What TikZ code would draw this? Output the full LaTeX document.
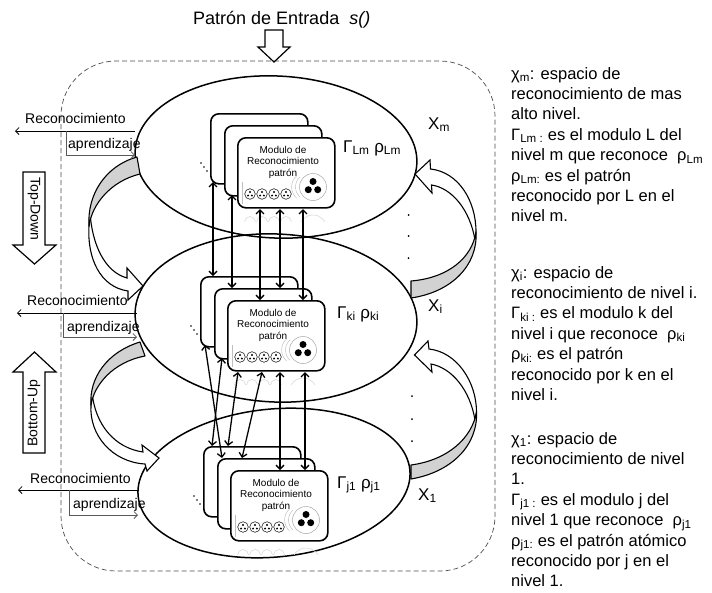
\documentclass[tikz,border=0pt]{standalone}
\usepackage{fontspec}
\setmainfont{Liberation Sans}
\usetikzlibrary{arrows.meta,shapes.geometric}
\newcommand{\sbs}[1]{\textsubscript{#1}}
\newcommand{\modgroup}[3]{%
\begin{scope}[shift={(#2,#3)}]
\node[modbox] (#1b) at (-27,-24) {};
\node[modbox] (#1m) at (-13,-12) {};
\begin{scope}
\clip (-2,71) rectangle (99,84);
\foreach \cx in {13,25,37,49} {\draw[ghost] (\cx,85) circle[radius=5.5pt];}
\draw[ghost] (76,92) circle[radius=14pt];
\end{scope}
\node[modbox] (#1f) at (0,0) {};
\node[modtext] (#1t) at (46,25) {Modulo de\\Reconocimiento\\patrón};
\draw[line width=0.5pt, gray!70] (76,50) circle[radius=13.5pt];
\draw[line width=0.4pt, gray!55] (63,40) .. controls (57,45) and (57,55) .. (63,60);
\draw[line width=0.4pt, gray!55] (59.5,39) .. controls (53,45) and (53,55) .. (59.5,61);
\fill (76,44.5) circle[radius=3.5pt];
\fill (71.3,52.7) circle[radius=3.5pt];
\fill (80.7,52.7) circle[radius=3.5pt];
\draw[gray!50, line width=0.4pt] (5,45) -- (5,67);
\foreach \cx in {13,25,37,49} {%
  \draw[line width=0.5pt] (\cx,57) circle[radius=5.3pt];
  \fill (\cx,55) circle[radius=1.1pt];
  \fill (\cx-1.9,58.5) circle[radius=1.1pt];
  \fill (\cx+1.9,58.5) circle[radius=1.1pt];}
\fill (-36,26) circle[radius=0.9pt];
\fill (-33,30) circle[radius=0.9pt];
\fill (-30,34) circle[radius=0.9pt];
\end{scope}}
\begin{document}
\begin{tikzpicture}[x=1pt,y=-1pt,
 ell/.style={draw, line width=1.5pt, ellipse, inner sep=0pt},
 modbox/.style={draw, line width=1.6pt, fill=white, rounded corners=8pt, minimum width=97pt, minimum height=70pt, anchor=north west, inner sep=0pt},
 modtext/.style={font=\fontsize{10}{11.5}\selectfont, align=center, inner sep=0pt},
 dbl/.style={line width=1.3pt, {Straight Barb[length=4pt,width=8pt]}-{Straight Barb[length=4pt,width=8pt]}},
 lbl/.style={font=\fontsize{14}{16}\selectfont, inner sep=0pt, anchor=base west},
 thinarrow/.style={line width=0.8pt, -{Straight Barb[length=3.5pt,width=7pt]}},
 blockarrow/.style={draw, fill=white, line width=1.2pt, line join=miter},
 crescent/.style={draw, fill=gray!35, line width=1.1pt, line join=round},
 ribbon/.style={draw, fill=white, line width=1.1pt, line join=miter},
 rtext/.style={font=\fontsize{16.5}{20.4}\selectfont, align=left, inner sep=0pt, anchor=north west},
 biglbl/.style={font=\fontsize{17}{20}\selectfont, inner sep=0pt, anchor=base west},
 ghost/.style={draw=gray!30, line width=0.6pt},
 frame/.style={draw=gray!60!black, dash pattern=on 5pt off 3pt, line width=0.7pt, rounded corners=55pt}]
\useasboundingbox (0,0) rectangle (712,592);
% frame
\draw[frame] (61,61) rectangle (495,571);
% ellipses
\node[ell, minimum width=282pt, minimum height=162pt, rotate=-2.6] (ET) at (276,157) {};
\node[ell, minimum width=282pt, minimum height=168pt, rotate=-2.5] (EM) at (276,318) {};
\node[ell, minimum width=273pt, minimum height=148pt, rotate=5.5] (EB) at (274,483) {};
% left curved arrows
\path[ribbon] (90,212) .. controls (92,245) and (105,272) .. (127,278) -- (127,268) -- (143,286) -- (128,300) -- (128,291) .. controls (100,287) and (87,258) .. (89,226) -- cycle;
\path[crescent] (137,157) .. controls (105,166) and (87,195) .. (89,226) .. controls (92,204) and (111,181) .. (140,174) -- cycle;
\path[ribbon] (92,392) .. controls (95,425) and (115,448) .. (143,452) -- (142,445) -- (159,458) -- (147,471) -- (145,464) .. controls (112,462) and (89,435) .. (91,405) -- cycle;
\path[crescent] (140,342) .. controls (107,352) and (89,378) .. (91,405) .. controls (94,385) and (113,362) .. (145,356) -- cycle;
% right curved arrows
\path[ribbon] (476,232) .. controls (476,200) and (458,172) .. (430.5,169) -- (430,160) -- (415,174) -- (432,193) -- (431.5,185) .. controls (452,188) and (470,210) .. (475,240) -- cycle;
\path[crescent] (411,298) .. controls (452,292) and (478,265) .. (476,232) .. controls (472,258) and (448,278) .. (411,281) -- cycle;
\path[ribbon] (476.5,412) .. controls (476.5,382) and (457,352) .. (429,349) -- (428,341) -- (414.5,355) -- (432,372) -- (431,364) .. controls (452,368) and (470,390) .. (475,420) -- cycle;
\path[crescent] (411,479) .. controls (452,472) and (478,445) .. (476.5,412) .. controls (472,438) and (448,460) .. (411,465) -- cycle;
% vertical dots
\foreach \yy in {215,236,258} {\fill (408.5,\yy) circle[radius=1pt];}
\foreach \yy in {396,419,441} {\fill (412,\yy) circle[radius=1pt];}
% modules
\modgroup{T}{237}{137}
\modgroup{M}{227}{300}
\modgroup{B}{230}{470}
% module connectors
\coordinate (p1) at (213,182); \coordinate (q1) at (213,276);
\coordinate (p2) at (232,195); \coordinate (q2) at (232,288);
\coordinate (p3) at (260,209); \coordinate (q3) at (260,300);
\coordinate (p4) at (280,209); \coordinate (q4) at (280,288);
\coordinate (p5) at (303,209); \coordinate (q5) at (303,300);
\foreach \i in {1,...,5} {\draw[dbl] (p\i) -- (q\i);}
\coordinate (s1) at (205,345); \coordinate (t1) at (222,458);
\coordinate (s2) at (222,358); \coordinate (t2) at (212,446);
\coordinate (s3) at (238,372); \coordinate (t3) at (228,446);
\coordinate (s4) at (262,372); \coordinate (t4) at (242,458);
\coordinate (s5) at (280,372); \coordinate (t5) at (280,470);
\coordinate (s6) at (305,372); \coordinate (t6) at (305,470);
\foreach \i in {1,...,6} {\draw[dbl] (s\i) -- (t\i);}
% level labels
\node[biglbl] (LT) at (343,152) {Γ\sbs{Lm} ρ\sbs{Lm}};
\node[biglbl] (LM) at (337,318) {Γ\sbs{ki} ρ\sbs{ki}};
\node[biglbl] (LB) at (337,488) {Γ\sbs{j1} ρ\sbs{j1}};
\node[biglbl] (XT) at (428,129) {Χ\sbs{m}};
\node[biglbl] (XM) at (428,311) {Χ\sbs{i}};
\node[biglbl] (XB) at (418,500) {Χ\sbs{1}};
% input
\node[anchor=base west, font=\fontsize{18}{20}\selectfont, inner sep=0pt] (inp) at (193,24) {Patrón de Entrada\ \ \textit{s()}};
\path[blockarrow] (265,30) -- (283,30) -- (283,47) -- (290,47) -- (274,62) -- (258,47) -- (265,47) -- cycle;
% Top-Down / Bottom-Up
\path[blockarrow] (23,172) -- (45,172) -- (45,245) -- (56,245) -- (34.5,264) -- (13,245) -- (23,245) -- cycle;
\node[rotate=-90, font=\fontsize{14}{16}\selectfont, inner sep=0pt] (td) at (34,209) {Top-Down};
\path[blockarrow] (34.5,352) -- (56,372) -- (45,372) -- (45,453) -- (23,453) -- (23,372) -- (13,372) -- cycle;
\node[rotate=90, font=\fontsize{14}{16}\selectfont, inner sep=0pt] (bu) at (34,413) {Bottom-Up};
% left labels
\node[lbl] (rec1) at (25,123) {Reconocimiento};
\node[lbl] (apr1) at (68,148) {aprendizaje};
\coordinate (r1a) at (135,131); \coordinate (r1b) at (15,131);
\coordinate (a1a) at (66,131); \coordinate (a1b) at (135,155);
\draw[thinarrow] (r1a) -- (r1b);
\draw[thinarrow, gray!70!black] (a1a) |- (a1b);
\node[lbl] (rec2) at (27,305) {Reconocimiento};
\node[lbl] (apr2) at (67,331) {aprendizaje};
\coordinate (r2a) at (137,313); \coordinate (r2b) at (17,313);
\coordinate (a2a) at (63,313); \coordinate (a2b) at (137,337);
\draw[thinarrow] (r2a) -- (r2b);
\draw[thinarrow, gray!70!black] (a2a) |- (a2b);
\node[lbl] (rec3) at (30,483) {Reconocimiento};
\node[lbl] (apr3) at (73,508) {aprendizaje};
\coordinate (r3a) at (138,490); \coordinate (r3b) at (18,490);
\coordinate (a3a) at (69,490); \coordinate (a3b) at (138,515);
\draw[thinarrow] (r3a) -- (r3b);
\draw[thinarrow, gray!70!black] (a3a) |- (a3b);
% right text
\node[rtext] (txt1) at (511,67) {χ\sbs{m}: espacio de\\reconocimiento de mas\\alto nivel.\\Γ\sbs{Lm :} es el modulo L del\\nivel m que reconoce\ \ ρ\sbs{Lm}\\ρ\sbs{Lm:} es el patrón\\reconocido por L en el\\nivel m.};
\node[rtext] (txt2) at (511,266) {χ\sbs{i}: espacio de\\reconocimiento de nivel i.\\Γ\sbs{ki :} es el modulo k del\\nivel i que reconoce\ \ ρ\sbs{ki}\\ρ\sbs{ki:} es el patrón\\reconocido por k en el\\nivel i.};
\node[rtext] (txt3) at (511,432) {χ\sbs{1}: espacio de\\reconocimiento de nivel\\1.\\Γ\sbs{j1 :} es el modulo j del\\nivel 1 que reconoce\ \ ρ\sbs{j1}\\ρ\sbs{j1:} es el patrón atómico\\reconocido por j en el\\nivel 1.};
\end{tikzpicture}
\end{document}
